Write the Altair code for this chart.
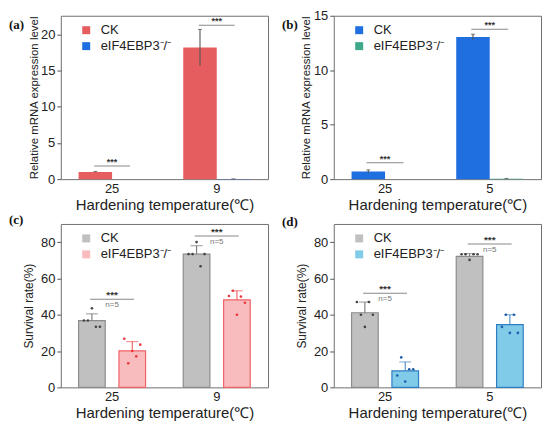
import altair as alt
import pandas as pd

SERIES = ["CK", "eIF4EBP3\u207b/\u207b"]
XTITLE = "Hardening temperature(\u2103)"
N_LABEL = "n=5"

# ---- panel (a): relative mRNA expression
a_temps = ["25", "9"]
a_ck = [1.0, 18.2]
a_ck_sd = [0.06, 2.5]
a_mut = [0.0, 0.02]
a_mut_sd = [0.0, 0.02]
a_sig = [1.8, 21.3]

# ---- panel (b)
b_temps = ["25", "5"]
b_ck = [0.7, 13.05]
b_ck_sd = [0.15, 0.25]
b_mut = [0.0, 0.04]
b_mut_sd = [0.0, 0.02]
b_sig = [1.5, 13.75]

# ---- panel (c): survival rate
c_temps = ["25", "9"]
c_ck = [36.8, 73.4]
c_ck_sd = [3.7, 4.6]
c_mut = [20.1, 48.2]
c_mut_sd = [5.1, 5.0]
c_ck_dots = [[36.8, 36.8, 43.6, 33.4, 33.4], [73.4, 73.4, 80.0, 66.7, 73.4]]
c_mut_dots = [[26.8, 13.3, 20.0, 17.1, 23.5], [50.3, 53.2, 40.0, 50.0, 46.6]]
c_sig = [48.5, 83.4]

# ---- panel (d)
d_temps = ["25", "5"]
d_ck = [41.1, 72.1]
d_ck_sd = [5.9, 1.6]
d_mut = [9.1, 34.6]
d_mut_sd = [4.9, 5.4]
d_ck_dots = [[47.0, 40.0, 33.3, 47.0, 40.0], [73.3, 73.3, 70.2, 73.3, 73.3]]
d_mut_dots = [[6.5, 16.5, 3.2, 10.0, 10.0], [33.3, 40.0, 30.0, 40.0, 30.0]]
d_sig = [51.8, 78.9]

FONT = "Liberation Sans"

style_a = dict(fill={"ck": "#E65D60", "mut": "#1F6FE0"}, stroke={"ck": "#E65D60", "mut": "#1F6FE0"},
               err={"ck": "#555555", "mut": "#555555"}, dot={"ck": "#444444", "mut": "#444444"},
               two_sided=True, pi_o=0.0, bsw=0, cap=4, sigL=36, tfs=11.5, tpad=1, star_fs=9)
style_b = dict(fill={"ck": "#1F6FE0", "mut": "#3DA88A"}, stroke={"ck": "#1F6FE0", "mut": "#3DA88A"},
               err={"ck": "#555555", "mut": "#555555"}, dot={"ck": "#444444", "mut": "#444444"},
               two_sided=True, pi_o=0.0, bsw=0, cap=4, sigL=37, tfs=11.5, tpad=2, star_fs=9)
style_c = dict(fill={"ck": "#C0C0C0", "mut": "#F8BBBE"}, stroke={"ck": "#8C8C8C", "mut": "#F06468"},
               err={"ck": "#777777", "mut": "#F05A5E"}, dot={"ck": "#444444", "mut": "#E8383C"},
               two_sided=False, pi_o=0.34, bsw=1.2, cap=12, sigL=44, tfs=12, tpad=5, star_fs=10)
style_d = dict(fill={"ck": "#C0C0C0", "mut": "#7FCBE8"}, stroke={"ck": "#8C8C8C", "mut": "#2F7FC4"},
               err={"ck": "#777777", "mut": "#4A8CC8"}, dot={"ck": "#444444", "mut": "#1F5FAA"},
               two_sided=False, pi_o=0.34, bsw=1.2, cap=12, sigL=44, tfs=12, tpad=5, star_fs=10)

W, H = 208, 164


def panel(label, temps, ck, ck_sd, mut, mut_sd, sig, st, ymax, yticks, ytitle,
          ck_dots=None, mut_dots=None, label_y=3):
    rows = []
    for i, t in enumerate(temps):
        for s, m, sd, key in [(SERIES[0], ck[i], ck_sd[i], "ck"), (SERIES[1], mut[i], mut_sd[i], "mut")]:
            rows.append({"temp": t, "series": s, "mean": m,
                         "lo": (m - sd) if st["two_sided"] else m, "hi": m + sd, "sd": sd,
                         "strokec": st["stroke"][key], "errc": st["err"][key]})
    df = pd.DataFrame(rows)
    err_df = df[df["sd"] > 0]

    xaxis = alt.Axis(title=XTITLE, labelAngle=0, ticks=False, domain=False,
                     labelPadding=3, titlePadding=2, titleFontSize=15)
    yaxis = alt.Axis(title=ytitle, values=yticks, grid=False, domain=False, tickSize=4,
                     titleFontSize=st["tfs"], titlePadding=st["tpad"])
    xscale = alt.Scale(paddingInner=0.36, paddingOuter=0.17)
    yscale = alt.Scale(domain=[0, ymax], nice=False, zero=True)

    def X():
        return alt.X("temp:N", sort=temps, scale=xscale, axis=xaxis)

    def XO():
        return alt.XOffset("series:N", sort=SERIES, scale=alt.Scale(paddingInner=st["pi_o"], paddingOuter=0))

    def Y(f):
        return alt.Y(f"{f}:Q", scale=yscale, axis=yaxis)

    bars = alt.Chart(df).mark_bar(strokeWidth=st["bsw"]).encode(
        x=X(), xOffset=XO(), y=Y("mean"),
        color=alt.Color("series:N", sort=SERIES,
                        scale=alt.Scale(domain=SERIES, range=[st["fill"]["ck"], st["fill"]["mut"]]),
                        legend=alt.Legend(title=None, orient="none", legendX=19, legendY=8, padding=0,
                                          symbolType="square", symbolSize=64, symbolStrokeWidth=0,
                                          labelFontSize=13, labelFont=FONT, labelColor="#222",
                                          labelOffset=8, rowPadding=2)),
        stroke=alt.Stroke("strokec:N", scale=None),
    )
    rules = alt.Chart(err_df).mark_rule(strokeWidth=1.1).encode(
        x=X(), xOffset=XO(), y=Y("lo"), y2="hi:Q", stroke=alt.Stroke("errc:N", scale=None))
    caps = alt.Chart(err_df).mark_tick(size=st["cap"], thickness=1.1).encode(
        x=X(), xOffset=XO(), y=Y("hi"), fill=alt.Fill("errc:N", scale=None))
    layers = [bars, rules, caps]

    if ck_dots is not None:
        pi = st["pi_o"]
        step = 1.0 / (2 - pi)
        half = step * (1 - pi) / 2
        centers = {"ck": half, "mut": step + half}
        spread = [-0.6, -0.3, 0.0, 0.3, 0.6]
        drows = []
        for i, t in enumerate(temps):
            for key, vals in [("ck", ck_dots[i]), ("mut", mut_dots[i])]:
                for j, v in enumerate(vals):
                    drows.append({"temp": t, "val": v, "pos": centers[key] + spread[j] * half,
                                  "dotc": st["dot"][key]})
        ddf = pd.DataFrame(drows)
        dots = alt.Chart(ddf).mark_circle(size=7, opacity=1).encode(
            x=X(),
            xOffset=alt.XOffset("pos:Q", scale=alt.Scale(domain=[0, 1], nice=False, zero=False)),
            y=Y("val"), fill=alt.Fill("dotc:N", scale=None))
        layers.append(dots)

    sdf = pd.DataFrame({"temp": temps, "sy": sig})
    sig_line = alt.Chart(sdf).mark_tick(size=st["sigL"], thickness=1, color="#555555").encode(
        x=X(), y=Y("sy"))
    stars = alt.Chart(sdf).mark_text(text="***", fontSize=st["star_fs"], fontWeight="bold",
                                     baseline="bottom", dy=1, color="#333333", font=FONT).encode(
        x=X(), y=Y("sy"))
    layers += [sig_line, stars]
    if ck_dots is not None:
        nlab = alt.Chart(sdf).mark_text(text=N_LABEL, fontSize=8, baseline="top", dy=2,
                                        color="#777777", font=FONT).encode(x=X(), y=Y("sy"))
        layers.append(nlab)

    ldf = pd.DataFrame({"lab": [label]})
    lab = alt.Chart(ldf).mark_text(align="left", baseline="top", font="Liberation Serif",
                                   fontWeight="bold", fontSize=13, color="#111111").encode(
        x=alt.value(-52), y=alt.value(label_y), text="lab:N")
    layers.append(lab)

    return alt.layer(*layers).resolve_scale(xOffset="independent").properties(width=W, height=H)


pa = panel("(a)", a_temps, a_ck, a_ck_sd, a_mut, a_mut_sd, a_sig, style_a, 22.6,
           [0, 5, 10, 15, 20], "Relative mRNA expression level", label_y=3)
pb = panel("(b)", b_temps, b_ck, b_ck_sd, b_mut, b_mut_sd, b_sig, style_b, 15,
           [0, 5, 10, 15], "Relative mRNA expression level", label_y=3)
pc = panel("(c)", c_temps, c_ck, c_ck_sd, c_mut, c_mut_sd, c_sig, style_c, 90,
           [0, 20, 40, 60, 80], "Survival rate(%)", c_ck_dots, c_mut_dots, label_y=-10)
pd_ = panel("(d)", d_temps, d_ck, d_ck_sd, d_mut, d_mut_sd, d_sig, style_d, 90,
            [0, 20, 40, 60, 80], "Survival rate(%)", d_ck_dots, d_mut_dots, label_y=-8)

chart = alt.concat(pa, pb, pc, pd_, columns=2, spacing={"row": 0, "column": 12}).resolve_scale(
    color="independent", x="independent", y="independent"
).resolve_legend(color="independent").properties(
    padding={"left": 0, "top": 0, "right": 0, "bottom": 0}
).configure_view(stroke="#707070", strokeWidth=1).configure_axis(
    labelFont=FONT, titleFont=FONT, labelFontSize=13, labelColor="#222222",
    titleColor="#222222", titleFontWeight="normal", tickColor="#555555"
)

chart.save("out.html", embed_options={"renderer": "svg", "actions": False})
